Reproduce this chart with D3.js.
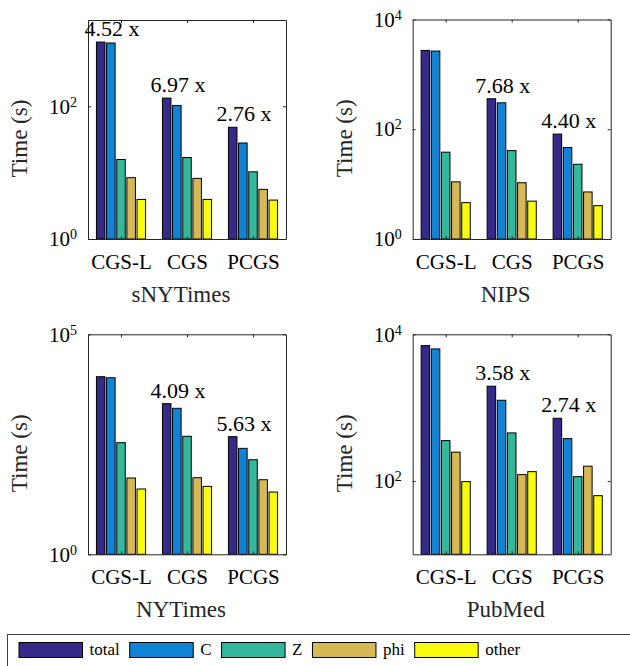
<!DOCTYPE html>
<html>
<head>
<meta charset="utf-8">
<script src="https://cdn.jsdelivr.net/npm/d3@7/dist/d3.min.js"></script>
</head>
<body style="margin:0;padding:0;background:#fff">
<svg id="chart" width="630" height="666" style="display:block"></svg>
<script>
// ---------- data ----------
const categories = ["CGS-L", "CGS", "PCGS"];
const seriesNames = ["total", "C", "Z", "phi", "other"];
const seriesColors = ["#352a87", "#1283d4", "#35b79c", "#d6b955", "#f9fb0e"];
const datasets = ["sNYTimes", "NIPS", "NYTimes", "PubMed"];

// values[dataset][category][series]
const valuesSNYTimes = [[930, 900, 15.8, 8.4, 3.95], [133, 103, 16.9, 8.2, 3.95], [48.3, 28, 10.3, 5.6, 3.86]];
const valuesNIPS     = [[2730, 2660, 38.2, 11, 4.6], [359, 303, 40.8, 10.6, 4.9], [81.6, 46.4, 23, 7.2, 4.05]];
const valuesNYTimes  = [[10870, 10300, 344, 54.2, 30.5], [2650, 2080, 481, 55, 35], [471, 256, 141, 49.5, 26]];
const valuesPubMed   = [[7010, 6320, 355, 247, 98], [1960, 1260, 452, 122, 134], [716, 378, 114.5, 159, 63]];
const allValues = [valuesSNYTimes, valuesNIPS, valuesNYTimes, valuesPubMed];

const speedupLabels = [
  ["4.52 x", "6.97 x", "2.76 x"],
  [null, "7.68 x", "4.40 x"],
  [null, "4.09 x", "5.63 x"],
  [null, "3.58 x", "2.74 x"]
];
const yMin = [1, 1, 1, 10];
const yMax = [2000, 1e4, 1e5, 1e4];
const yTicks = [[1, 100], [1, 100, 1e4], [1, 1e5], [100, 1e4]];

// ---------- layout ----------
const FONT = "'Liberation Serif', 'Times New Roman', Tinos, serif";
const svg = d3.select("#chart");
const axisColor = "#262626";
const panelW = 198;
const panels = [
  { left: 88, top: 20, h: 219 },
  { left: 412.7, top: 19.5, h: 219.5 },
  { left: 88, top: 334.3, h: 220 },
  { left: 412.7, top: 334.3, h: 220 }
];

function styleAxis(g) {
  g.attr("font-family", null).attr("font-size", null);
  g.selectAll("path.domain").attr("stroke", axisColor).attr("stroke-width", 1);
  g.selectAll(".tick line").attr("stroke", axisColor).attr("stroke-width", 1);
  g.selectAll("text").attr("fill", "#000").style("font-family", FONT).style("font-size", "21px");
}

datasets.forEach((name, di) => {
  const p = panels[di];
  const g = svg.append("g").attr("transform", `translate(${p.left},${p.top})`);
  const W = panelW, H = p.h;

  const x0 = d3.scaleLinear().domain([0.5, 3.5]).range([0, W]);
  const groupW = (x0(1.769) - x0(1));
  const x1 = d3.scaleBand().domain(seriesNames).range([-groupW / 2, groupW / 2])
    .paddingInner(0.16).paddingOuter(0.08);
  const y = d3.scaleLog().domain([yMin[di], yMax[di]]).range([H, 0]);

  // bars
  const vals = allValues[di];
  vals.forEach((row, ci) => {
    g.selectAll(null).data(row).enter().append("rect")
      .attr("x", (d, si) => x0(ci + 1) + x1(seriesNames[si]))
      .attr("width", x1.bandwidth())
      .attr("y", d => y(d))
      .attr("height", d => H - y(d))
      .attr("fill", (d, si) => seriesColors[si])
      .attr("stroke", "#000")
      .attr("stroke-width", 1);
  });

  // axes
  const bottom = g.append("g").attr("transform", `translate(0,${H})`)
    .call(d3.axisBottom(x0).tickValues([1, 2, 3]).tickFormat(d => categories[d - 1])
      .tickSizeInner(-3).tickSizeOuter(0).tickPadding(15));
  styleAxis(bottom);

  const top = g.append("g")
    .call(d3.axisTop(x0).tickValues([1, 2, 3]).tickFormat("")
      .tickSizeInner(-3).tickSizeOuter(0));
  styleAxis(top);

  const left = g.append("g")
    .call(d3.axisLeft(y).tickValues(yTicks[di]).tickSizeInner(-3).tickSizeOuter(0).tickPadding(11));
  styleAxis(left);
  left.selectAll(".tick text").each(function (d) {
    const t = d3.select(this);
    t.text(null);
    t.append("tspan").text("10");
    t.append("tspan").attr("dy", "-0.5em").style("font-size", "14px").text(Math.round(Math.log10(d)));
  });

  const right = g.append("g").attr("transform", `translate(${W},0)`)
    .call(d3.axisRight(y).tickValues(yTicks[di]).tickFormat("").tickSizeInner(-3).tickSizeOuter(0));
  styleAxis(right);

  // speedup labels
  speedupLabels[di].forEach((lab, ci) => {
    if (!lab) return;
    g.append("text")
      .attr("x", x0(ci + 1) - 9)
      .attr("y", y(vals[ci][0]) - 6)
      .attr("text-anchor", "middle")
      .style("font-family", FONT).style("font-size", "22px")
      .attr("fill", "#000")
      .text(lab);
  });

  // y label
  g.append("text")
    .attr("transform", `translate(-61,${H / 2 + 9}) rotate(-90)`)
    .attr("text-anchor", "middle")
    .style("font-family", FONT).style("font-size", "23px")
    .attr("fill", "#262626")
    .text("Time (s)");

  // x label
  g.append("text")
    .attr("x", W / 2 - 6)
    .attr("y", H + 63)
    .attr("text-anchor", "middle")
    .style("font-family", FONT).style("font-size", "23px")
    .attr("fill", "#262626")
    .text(name);
});

// ---------- legend ----------
const legend = svg.append("g");
legend.append("rect")
  .attr("x", 7.5).attr("y", 634.5).attr("width", 640).attr("height", 40)
  .attr("fill", "#fff").attr("stroke", "#404040").attr("stroke-width", 1);

let lx = 19;
seriesNames.forEach((s, i) => {
  legend.append("rect")
    .attr("x", lx).attr("y", 642.5).attr("width", 63.5).attr("height", 15)
    .attr("fill", seriesColors[i]).attr("stroke", "#000").attr("stroke-width", 1);
  const t = legend.append("text")
    .attr("x", lx + 63.5 + 7).attr("y", 655)
    .style("font-family", FONT).style("font-size", "17px")
    .attr("fill", "#000")
    .text(s);
  const tw = t.node().getComputedTextLength();
  lx = lx + 63.5 + 7 + tw + 10;
});
</script>
</body>
</html>
